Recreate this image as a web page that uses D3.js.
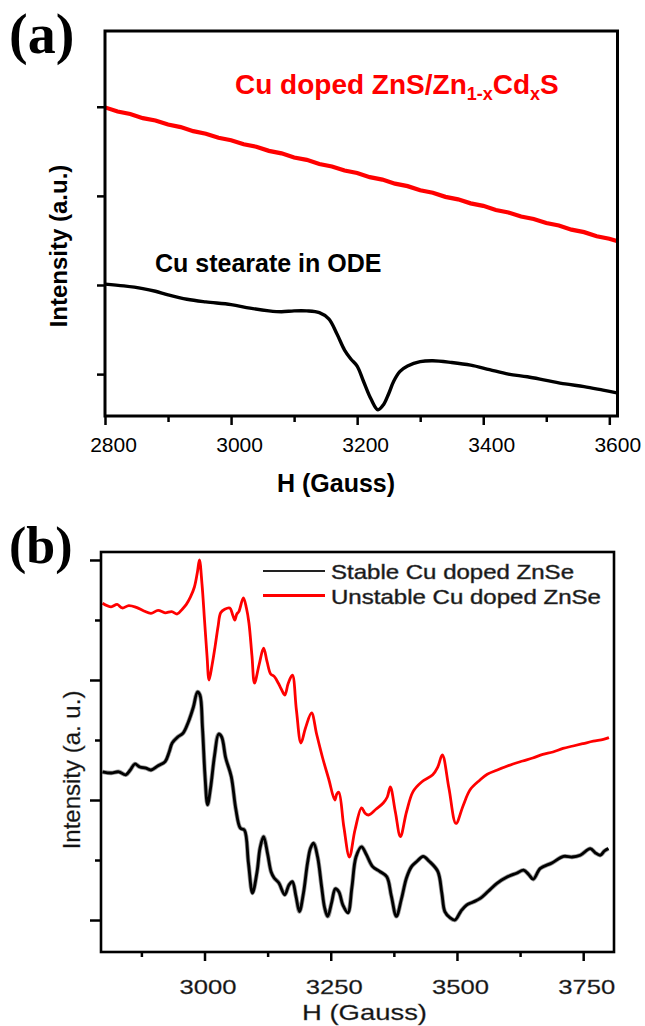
<!DOCTYPE html>
<html>
  <head>
    <meta charset='utf-8'>
    <style>
      body { margin: 0; background: #fff; }
      text { font-family: "Liberation Sans", Arial, sans-serif; }
    </style>
  </head>
  <body>
    <div id="chart"></div>
    <script src="https://d3js.org/d3.v7.min.js"></script>
    <script type="text/javascript">

      // ---------------- data, panel (a) ----------------
      var fieldA_red = [2800, 2820, 2840, 2860, 2880, 2900, 2920, 2940, 2960, 2980, 3000, 3020, 3040, 3060, 3080, 3100, 3120, 3140, 3160, 3180, 3200,
                        3220, 3240, 3260, 3280, 3300, 3320, 3340, 3360, 3380, 3400, 3420, 3440, 3460, 3480, 3500, 3520, 3540, 3560, 3580, 3600, 3612];
      var intA_red = [3.993, 3.947, 3.919, 3.872, 3.846, 3.800, 3.772, 3.726, 3.698, 3.652, 3.625, 3.579, 3.551, 3.505, 3.477, 3.431, 3.404, 3.358, 3.330, 3.284, 3.256,
                      3.210, 3.183, 3.137, 3.109, 3.063, 3.035, 2.989, 2.961, 2.916, 2.888, 2.842, 2.814, 2.768, 2.740, 2.695, 2.667, 2.621, 2.593, 2.547, 2.519, 2.493];

      var fieldA_blk = [2800, 2830, 2860, 2880, 2900, 2930, 2960, 3000, 3030, 3060, 3080, 3100, 3120, 3140, 3155, 3168, 3180, 3190, 3200, 3210,
                        3222, 3233, 3242, 3250, 3258, 3268, 3280, 3300, 3320, 3350, 3380, 3410, 3440, 3470, 3500, 3530, 3560, 3590, 3612];
      var intA_blk = [2.01, 1.99, 1.96, 1.93, 1.89, 1.84, 1.81, 1.78, 1.74, 1.71, 1.70, 1.71, 1.71, 1.69, 1.62, 1.45, 1.27, 1.17, 1.09, 0.92,
                      0.72, 0.60, 0.66, 0.78, 0.92, 1.03, 1.09, 1.14, 1.15, 1.13, 1.10, 1.05, 1.00, 0.97, 0.93, 0.89, 0.86, 0.82, 0.79];

      var ticksA_x = [2800, 3000, 3200, 3400, 3600];
      var minorA_x = [2900, 3100, 3300, 3500];
      var ticksA_y = [1, 2, 3, 4];

      // ---------------- data, panel (b) ----------------
      var fieldB_red = [2798, 2815, 2827, 2837, 2850, 2865, 2880, 2894, 2908, 2922, 2935, 2946, 2956, 2964, 2972, 2980, 2986, 2990, 2995, 3000,
                        3005, 3009, 3015, 3021, 3027, 3032, 3040, 3050, 3056, 3060, 3064, 3068, 3077, 3083, 3088, 3094, 3099, 3108, 3117, 3124,
                        3131, 3138, 3146, 3152, 3159, 3166, 3174, 3182, 3191, 3200, 3212, 3222, 3234, 3246, 3258, 3262, 3266, 3276, 3287, 3298,
                        3311, 3318, 3325, 3340, 3354, 3362, 3368, 3378, 3388, 3400, 3413, 3430, 3452, 3462, 3471, 3484, 3498, 3512, 3526, 3545,
                        3560, 3580, 3611, 3630, 3650, 3670, 3690, 3710, 3730, 3750, 3770, 3790, 3801];
      var intB_red = [5.28, 5.22, 5.26, 5.20, 5.24, 5.21, 5.15, 5.11, 5.16, 5.12, 5.14, 5.10, 5.18, 5.26, 5.38, 5.55, 5.80, 6.00, 5.60, 5.00,
                      4.40, 4.00, 4.25, 4.56, 4.90, 5.12, 5.18, 5.20, 5.08, 5.00, 5.10, 5.14, 5.37, 5.20, 4.95, 4.40, 3.95, 4.25, 4.53, 4.30,
                      4.10, 4.06, 3.95, 3.85, 3.75, 3.95, 4.08, 3.50, 2.95, 3.20, 3.45, 3.10, 2.70, 2.35, 2.00, 2.10, 2.13, 1.55, 1.05, 1.50,
                      1.87, 1.78, 1.75, 1.85, 1.95, 2.05, 2.22, 1.80, 1.39, 1.80, 2.14, 2.30, 2.42, 2.55, 2.75, 2.20, 1.61, 1.90, 2.17, 2.33,
                      2.43, 2.50, 2.60, 2.65, 2.70, 2.76, 2.80, 2.86, 2.90, 2.94, 2.98, 3.01, 3.04];

      var fieldB_blk = [2798, 2815, 2830, 2844, 2853, 2862, 2872, 2884, 2894, 2908, 2922, 2930, 2936, 2947, 2958, 2968, 2978, 2986, 2991, 2996,
                        3001, 3006, 3012, 3020, 3028, 3034, 3042, 3053, 3062, 3071, 3079, 3087, 3095, 3104, 3110, 3117, 3125, 3132, 3138, 3147,
                        3159, 3167, 3174, 3181, 3188, 3196, 3204, 3210, 3216, 3224, 3232, 3238, 3244, 3252, 3259, 3266, 3274, 3284, 3292, 3300,
                        3311, 3320, 3333, 3347, 3361, 3370, 3380, 3390, 3400, 3410, 3421, 3433, 3445, 3462, 3470, 3476, 3486, 3496, 3508, 3519,
                        3532, 3546, 3562, 3579, 3600, 3618, 3632, 3642, 3651, 3665, 3688, 3711, 3728, 3744, 3764, 3774, 3784, 3792, 3800];
      var intB_blk = [2.47, 2.45, 2.47, 2.42, 2.50, 2.60, 2.55, 2.53, 2.50, 2.57, 2.64, 2.80, 2.95, 3.05, 3.12, 3.30, 3.55, 3.80, 3.75, 3.20,
                      2.40, 1.92, 2.20, 2.75, 3.10, 3.05, 2.70, 2.39, 1.85, 1.53, 1.50, 0.95, 0.45, 0.80, 1.20, 1.39, 1.10, 0.80, 0.70, 0.62,
                      0.42, 0.58, 0.64, 0.40, 0.14, 0.45, 0.95, 1.20, 1.28, 1.05, 0.55, 0.20, 0.06, 0.30, 0.52, 0.47, 0.25, 0.12, 0.55, 1.05,
                      1.22, 1.10, 0.89, 0.81, 0.72, 0.40, 0.06, 0.35, 0.70, 0.89, 0.98, 1.06, 0.98, 0.81, 0.45, 0.14, 0.04, 0.00, 0.15, 0.25,
                      0.30, 0.36, 0.48, 0.61, 0.72, 0.78, 0.83, 0.76, 0.68, 0.86, 0.95, 1.06, 1.05, 1.08, 1.19, 1.12, 1.08, 1.15, 1.19];

      var ticksB_x = [3000, 3250, 3500, 3750];
      var minorB_x = [2875, 3125, 3375, 3625];
      var ticksB_y = [0, 2, 4, 6];
      var minorB_y = [1, 3, 5];

      var legendB = ["Stable Cu doped ZnSe", "Unstable Cu doped ZnSe"];

      // ---------------- svg ----------------
      var svg = d3.select("#chart").append("svg")
        .attr("width", 645)
        .attr("height", 1026);

      function pairs(xs, ys) {
        return xs.map(function(x, i){ return [x, ys[i]]; });
      }

      // =============== panel (a) ===============
      var xA = d3.scaleLinear().domain([2800, 3613]).range([105, 617.5]);
      var yA = d3.scaleLinear().domain([0.53, 4.85]).range([416, 31]);

      var gA = svg.append("g");

      var lineA = d3.line()
        .x(function(d){ return xA(d[0]); })
        .y(function(d){ return yA(d[1]); })
        .curve(d3.curveCatmullRom.alpha(0.5));

      gA.append("path")
        .datum(pairs(fieldA_red, intA_red))
        .attr("d", lineA.curve(d3.curveLinear))
        .attr("fill", "none")
        .attr("stroke", "#ff0000")
        .attr("stroke-width", 4.2);
      lineA.curve(d3.curveCatmullRom.alpha(0.5));

      gA.append("path")
        .datum(pairs(fieldA_blk, intA_blk))
        .attr("d", lineA)
        .attr("fill", "none")
        .attr("stroke", "#000")
        .attr("stroke-width", 3.4);

      // frame
      gA.append("rect")
        .attr("x", xA.range()[0]).attr("y", yA.range()[1])
        .attr("width", xA.range()[1] - xA.range()[0])
        .attr("height", yA.range()[0] - yA.range()[1])
        .attr("fill", "none").attr("stroke", "#000").attr("stroke-width", 3);

      var axA = gA.append("g")
        .attr("transform", "translate(0," + yA.range()[0] + ")")
        .call(d3.axisBottom(xA).tickValues(ticksA_x).tickSize(9).tickPadding(12).tickFormat(d3.format("d")));
      gA.append("g")
        .attr("transform", "translate(0," + yA.range()[0] + ")")
        .call(d3.axisBottom(xA).tickValues(minorA_x).tickSize(6).tickFormat(""));
      gA.append("g")
        .attr("transform", "translate(" + xA.range()[0] + ",0)")
        .call(d3.axisLeft(yA).tickValues(ticksA_y).tickSize(8).tickFormat(""));

      gA.selectAll(".domain").remove();
      gA.selectAll(".tick line").attr("stroke-width", 2.5);
      axA.selectAll("text")
        .attr("x", 8)
        .style("font-size", "21px")
        .style("font-family", "'Liberation Sans', Arial, sans-serif")
        .attr("fill", "#000");

      gA.append("text")
        .attr("x", 336).attr("y", 492)
        .attr("text-anchor", "middle")
        .style("font-size", "25px").style("font-weight", "bold")
        .text("H (Gauss)");

      gA.append("text")
        .attr("transform", "translate(67,246) rotate(-90)")
        .attr("text-anchor", "middle")
        .style("font-size", "24px").style("font-weight", "bold")
        .text("Intensity (a.u.)");

      var lab = gA.append("text")
        .attr("x", 235).attr("y", 94)
        .attr("fill", "#ff0000")
        .style("font-size", "28px").style("font-weight", "bold");
      lab.append("tspan").text("Cu doped ZnS/Zn");
      lab.append("tspan").attr("dy", 6).style("font-size", "18px").text("1-x");
      lab.append("tspan").attr("dy", -6).text("Cd");
      lab.append("tspan").attr("dy", 6).style("font-size", "18px").text("x");
      lab.append("tspan").attr("dy", -6).text("S");

      gA.append("text")
        .attr("x", 155).attr("y", 272)
        .style("font-size", "25px").style("font-weight", "bold")
        .text("Cu stearate in ODE");

      svg.append("text")
        .attr("x", 9).attr("y", 53)
        .style("font-family", "'Liberation Serif', 'Times New Roman', serif")
        .style("font-size", "56px").style("font-weight", "bold")
        .text("(a)");

      // =============== panel (b) ===============
      var xB = d3.scaleLinear().domain([2795, 3811]).range([101, 614]);
      var yB = d3.scaleLinear().domain([-0.533, 6.133]).range([952, 552]);

      var gB = svg.append("g");

      var lineB = d3.line()
        .x(function(d){ return xB(d[0]); })
        .y(function(d){ return yB(d[1]); })
        .curve(d3.curveCatmullRom.alpha(0.5));

      gB.append("path")
        .datum(pairs(fieldB_red, intB_red))
        .attr("d", lineB)
        .attr("fill", "none")
        .attr("stroke", "#ff0000")
        .attr("stroke-width", 2.8)
        .attr("stroke-linejoin", "round");

      // black trace with a soft grey edge
      gB.append("path")
        .datum(pairs(fieldB_blk, intB_blk))
        .attr("d", lineB)
        .attr("fill", "none")
        .attr("stroke", "#999")
        .attr("stroke-width", 4.4)
        .attr("stroke-linejoin", "round");
      gB.append("path")
        .datum(pairs(fieldB_blk, intB_blk))
        .attr("d", lineB)
        .attr("fill", "none")
        .attr("stroke", "#000")
        .attr("stroke-width", 2.8)
        .attr("stroke-linejoin", "round");

      gB.append("rect")
        .attr("x", xB.range()[0]).attr("y", yB.range()[1])
        .attr("width", xB.range()[1] - xB.range()[0])
        .attr("height", yB.range()[0] - yB.range()[1])
        .attr("fill", "none").attr("stroke", "#000").attr("stroke-width", 2.6);

      var axB = gB.append("g")
        .attr("transform", "translate(0," + yB.range()[0] + ")")
        .call(d3.axisBottom(xB).tickValues(ticksB_x).tickSize(9).tickPadding(18).tickFormat(d3.format("d")));
      gB.append("g")
        .attr("transform", "translate(0," + yB.range()[0] + ")")
        .call(d3.axisBottom(xB).tickValues(minorB_x).tickSize(5).tickFormat(""));
      gB.append("g")
        .attr("transform", "translate(" + xB.range()[0] + ",0)")
        .call(d3.axisLeft(yB).tickValues(ticksB_y).tickSize(11).tickFormat(""));
      gB.append("g")
        .attr("transform", "translate(" + xB.range()[0] + ",0)")
        .call(d3.axisLeft(yB).tickValues(minorB_y).tickSize(6).tickFormat(""));

      gB.selectAll(".domain").remove();
      gB.selectAll(".tick line").attr("stroke-width", 2.5);
      axB.selectAll("text")
        .attr("x", 3)
        .attr("textLength", 57)
        .attr("lengthAdjust", "spacingAndGlyphs")
        .style("font-size", "21px")
        .style("font-family", "'Liberation Sans', Arial, sans-serif")
        .style("stroke", "#555").style("stroke-width", 0.3)
        .attr("fill", "#111");

      gB.append("text")
        .attr("x", 302).attr("y", 1020)
        .attr("textLength", 125).attr("lengthAdjust", "spacingAndGlyphs")
        .style("font-size", "22px")
        .style("stroke", "#555").style("stroke-width", 0.3)
        .attr("fill", "#111")
        .text("H (Gauss)");

      gB.append("text")
        .attr("transform", "translate(80,770) rotate(-90)")
        .attr("text-anchor", "middle")
        .style("font-size", "24px")
        .style("stroke", "#555").style("stroke-width", 0.3)
        .attr("fill", "#111")
        .text("Intensity (a. u.)");

      // legend
      var legColors = ["#222", "#ff0000"];
      var legW = [1.8, 3];
      var leg = gB.selectAll(".leg")
        .data(legendB).enter()
        .append("g")
        .attr("class", "leg")
        .attr("transform", function(d, i){ return "translate(263," + (571 + i * 24.5) + ")"; });
      leg.append("line")
        .attr("x1", 0).attr("x2", 62).attr("y1", 0).attr("y2", 0)
        .attr("stroke", function(d, i){ return legColors[i]; })
        .attr("stroke-width", function(d, i){ return legW[i]; });
      leg.append("text")
        .attr("x", 68).attr("y", 8)
        .attr("textLength", function(d, i){ return i == 0 ? 243 : 270; })
        .attr("lengthAdjust", "spacingAndGlyphs")
        .style("font-size", "21px")
        .style("stroke", "#444").style("stroke-width", 0.5)
        .attr("fill", "#111")
        .text(function(d){ return d; });

      svg.append("text")
        .attr("x", 9).attr("y", 563)
        .style("font-family", "'Liberation Serif', 'Times New Roman', serif")
        .style("font-size", "52px").style("font-weight", "bold")
        .text("(b)");

  </script>
  </body>
</html>
